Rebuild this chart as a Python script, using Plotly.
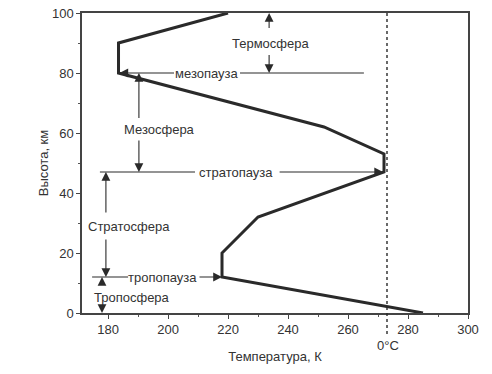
import plotly.graph_objects as go

# Temperature profile of the atmosphere (K vs km)
temperature_k = [220, 183.5, 183.5, 252, 272, 272, 230, 218, 218, 285]
altitude_km = [100, 90, 80, 62, 53, 47, 32, 20, 12, 0]

x_tick_values = [180, 200, 220, 240, 260, 280, 300]
y_tick_values = [0, 20, 40, 60, 80, 100]

zero_celsius_k = 273
mesopause_km = 80
stratopause_km = 47
tropopause_km = 12

INK = "#2a2a2a"
TXT = "#333333"
FONT = "Liberation Sans, Arial, sans-serif"

fig = go.Figure()
fig.add_trace(go.Scatter(
    x=temperature_k, y=altitude_km, mode="lines",
    line=dict(color=INK, width=3), hoverinfo="skip", showlegend=False,
))

shapes = []
annotations = []

def hline(x0, x1, y):
    shapes.append(dict(type="line", xref="x", yref="y", x0=x0, x1=x1, y0=y, y1=y,
                       line=dict(color=INK, width=1.1)))

def arrow(x_tip, y_tip, x_tail, y_tail):
    annotations.append(dict(x=x_tip, y=y_tip, ax=x_tail, ay=y_tail, xref="x", yref="y",
                            axref="x", ayref="y", text="", showarrow=True,
                            arrowhead=2, arrowsize=1.6, arrowwidth=1.1, arrowcolor=INK))

def label(text, x, y):
    annotations.append(dict(x=x, y=y, xref="x", yref="y", text=text, showarrow=False,
                            font=dict(family=FONT, size=13, color=TXT)))

# 0 °C dotted line, running below the axis
shapes.append(dict(type="line", xref="x", yref="paper", x0=zero_celsius_k, x1=zero_celsius_k,
                   y0=1, y1=-0.075, line=dict(color=INK, width=1.4, dash="dot")))
annotations.append(dict(x=zero_celsius_k + 0.3, y=-0.107, xref="x", yref="paper", text="0°C",
                        xanchor="center", yanchor="middle",
                        showarrow=False, font=dict(family=FONT, size=13, color=TXT)))

# Thermosphere
label("Термосфера", 234, 90)
arrow(233.7, 100, 233.7, 94.5)
arrow(233.7, mesopause_km, 233.7, 86.5)

# Mesopause
label("мезопауза", 213, mesopause_km)
arrow(183.8, mesopause_km, 202.5, mesopause_km)
hline(224, 265.3, mesopause_km)

# Mesosphere
label("Мезосфера", 197, 61.3)
arrow(190.3, mesopause_km, 190.3, 64.5)
arrow(190.3, stratopause_km, 190.3, 58)

# Stratopause
label("стратопауза", 222.7, stratopause_km)
hline(177.3, 209, stratopause_km)
arrow(271.7, stratopause_km, 236.7, stratopause_km)

# Stratosphere
label("Стратосфера", 187, 29)
arrow(179.3, stratopause_km, 179.3, 33)
arrow(179.3, tropopause_km, 179.3, 25)

# Tropopause
label("тропопауза", 198, tropopause_km)
hline(174.7, 186.7, tropopause_km)
arrow(218, tropopause_km, 210, tropopause_km)

# Troposphere
label("Тропосфера", 188, 5.3)
arrow(178, tropopause_km, 178, 9)
arrow(178, 0, 178, 2.7)

axis_common = dict(
    showline=True, linecolor="#444444", linewidth=1.5, mirror=True,
    ticks="outside", ticklen=4, tickwidth=1.2, tickcolor="#444444",
    showgrid=False, zeroline=False, ticklabeloverflow="allow", automargin=False,
    tickfont=dict(family=FONT, size=13, color=TXT),
    minor=dict(ticks="outside", ticklen=2.5, tickwidth=1, tickcolor="#555555", dtick=10),
)

fig.update_layout(
    width=492, height=374,
    margin=dict(l=82, r=24, t=13, b=61),
    paper_bgcolor="white", plot_bgcolor="white",
    shapes=shapes, annotations=annotations,
    xaxis=dict(range=[171.33, 300], tickvals=x_tick_values,
               title=dict(text="Температура, К", font=dict(family=FONT, size=13, color=TXT), standoff=16),
               **axis_common),
    yaxis=dict(range=[0, 100], tickvals=y_tick_values,
               title=dict(text="Высота, км", font=dict(family=FONT, size=13, color=TXT), standoff=0),
               **axis_common),
)

# remove the browser's default 8px body margin so the figure fills the window exactly
fig.write_html("out.html", config={"displayModeBar": False},
               post_script="document.body.style.margin='0';")
